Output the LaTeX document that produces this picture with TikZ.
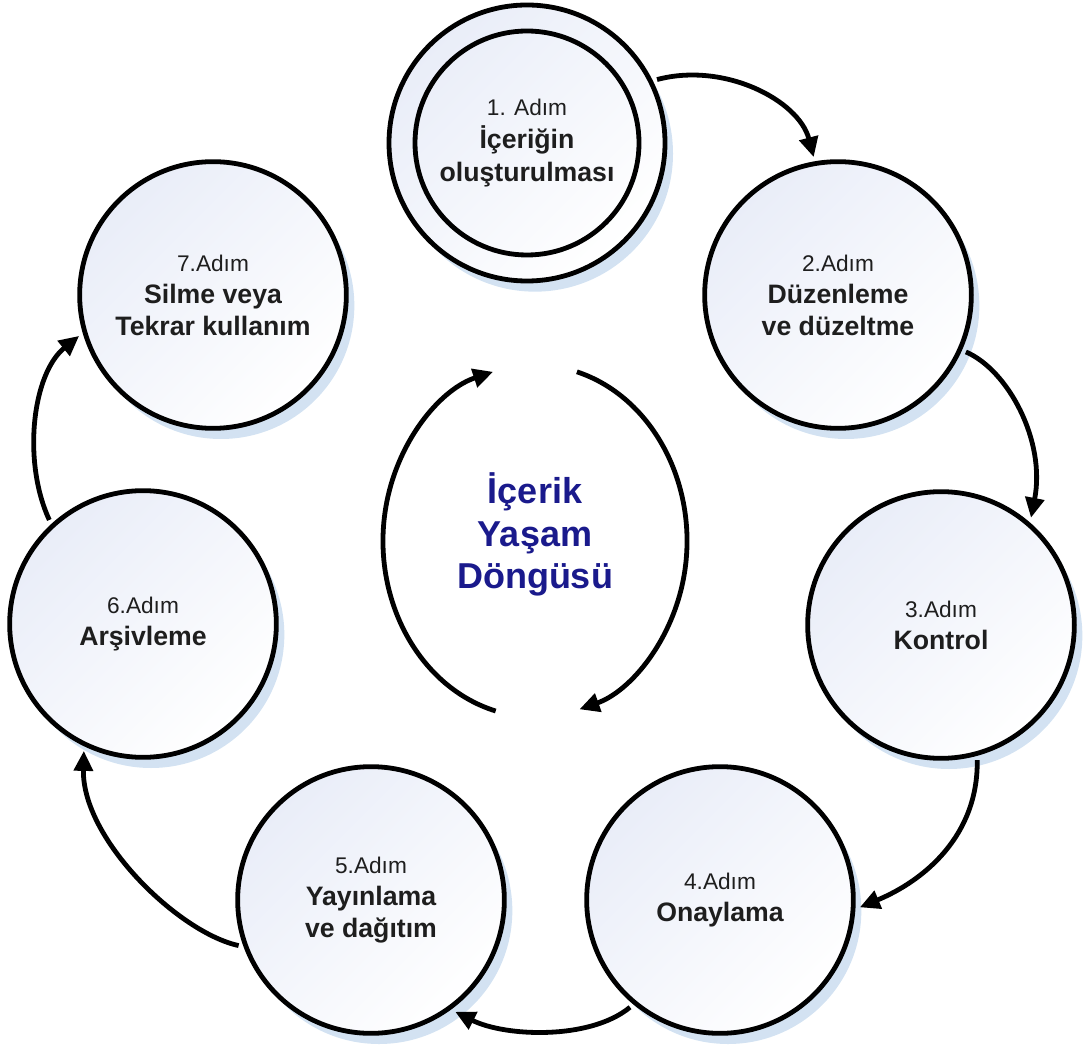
\documentclass[tikz,border=0pt]{standalone}
\usepackage{fontspec}
\setmainfont{Liberation Sans}
\usetikzlibrary{arrows.meta,shadows,calc}
\definecolor{fillc}{RGB}{233,237,248}
\definecolor{shadc}{RGB}{211,226,242}
\definecolor{titlec}{RGB}{26,26,140}
\definecolor{txtc}{RGB}{30,30,30}
\newcommand{\bt}[1]{{\fontsize{20}{24}\selectfont\bfseries #1}}
\tikzset{
  stepcirc/.style={circle, draw=black, line width=3.6pt, minimum size=200pt,
    inner sep=0pt, outer sep=5pt, top color=fillc, bottom color=white,
    shading angle=45,
    drop shadow={shadow xshift=6pt, shadow yshift=-8pt, fill=shadc, opacity=1},
    align=center, font=\fontsize{17}{24}\selectfont, text=txtc},
  innercirc/.style={circle, draw=black, line width=3.6pt, minimum size=168pt,
    inner sep=0pt, outer sep=5pt, align=center,
    font=\fontsize{17}{25}\selectfont, text=txtc},
  flow/.style={line width=3.6pt, -{Triangle[length=15pt,width=14pt]}},
  titlenode/.style={align=center, text=titlec,
    font=\fontsize{27}{32}\selectfont\bfseries},
}
\begin{document}
\begin{tikzpicture}[x=0.75pt,y=0.75pt]
\useasboundingbox (0,0) rectangle (1087,1054);
% step 1 (double circle)
\node[stepcirc, minimum size=207pt] (s1) at (527,911) {};
\node[innercirc] (s1i) at (527,911) {1. Adım\\\bt{İçeriğin}\\\bt{oluşturulması}};
% other steps
\node[stepcirc] (s2) at (838,759) {2.Adım\\\bt{Düzenleme}\\\bt{ve düzeltme}};
\node[stepcirc] (s3) at (941,429) {3.Adım\\\bt{Kontrol}};
\node[stepcirc] (s4) at (720,154) {4.Adım\\\bt{Onaylama}};
\node[stepcirc] (s5) at (371,154) {5.Adım\\\bt{Yayınlama}\\\bt{ve dağıtım}};
\node[stepcirc] (s6) at (143,430) {6.Adım\\\bt{Arşivleme}};
\node[stepcirc] (s7) at (213,759) {7.Adım\\\bt{Silme veya}\\\bt{Tekrar kullanım}};
% connectors
\draw[flow] (s1.26) .. controls +(67,18) and +(-15,57) .. (s2.100);
\draw[flow] (s2.-24) .. controls +(42,-18) and +(15,77) .. (s3.50);
\draw[flow] (s3.-75) .. controls +(1,-75) and +(65,27) .. (s4.-3);
\draw[flow] (s4.230) .. controls +(-40,-33) and +(50,-25) .. (s5.-53);
\draw[flow] (s5.199) .. controls +(-60,13) and +(-2,-88) .. (s6.245);
\draw[flow] (s6.132) .. controls +(-27,58) and +(-47,-38) .. (s7.197);
% centre cycle
\coordinate (ctr) at (535,513);
\coordinate (la) at ($(ctr)+(255:152 and 176)$);
\coordinate (ra) at ($(ctr)+(74:152 and 176)$);
\draw[flow] (la) arc[start angle=255, end angle=106, x radius=152, y radius=176];
\draw[flow] (ra) arc[start angle=74, end angle=-73, x radius=152, y radius=176];
\node[titlenode] (title) at (535,519.5) {İçerik\\Yaşam\\Döngüsü};
\end{tikzpicture}
\end{document}
